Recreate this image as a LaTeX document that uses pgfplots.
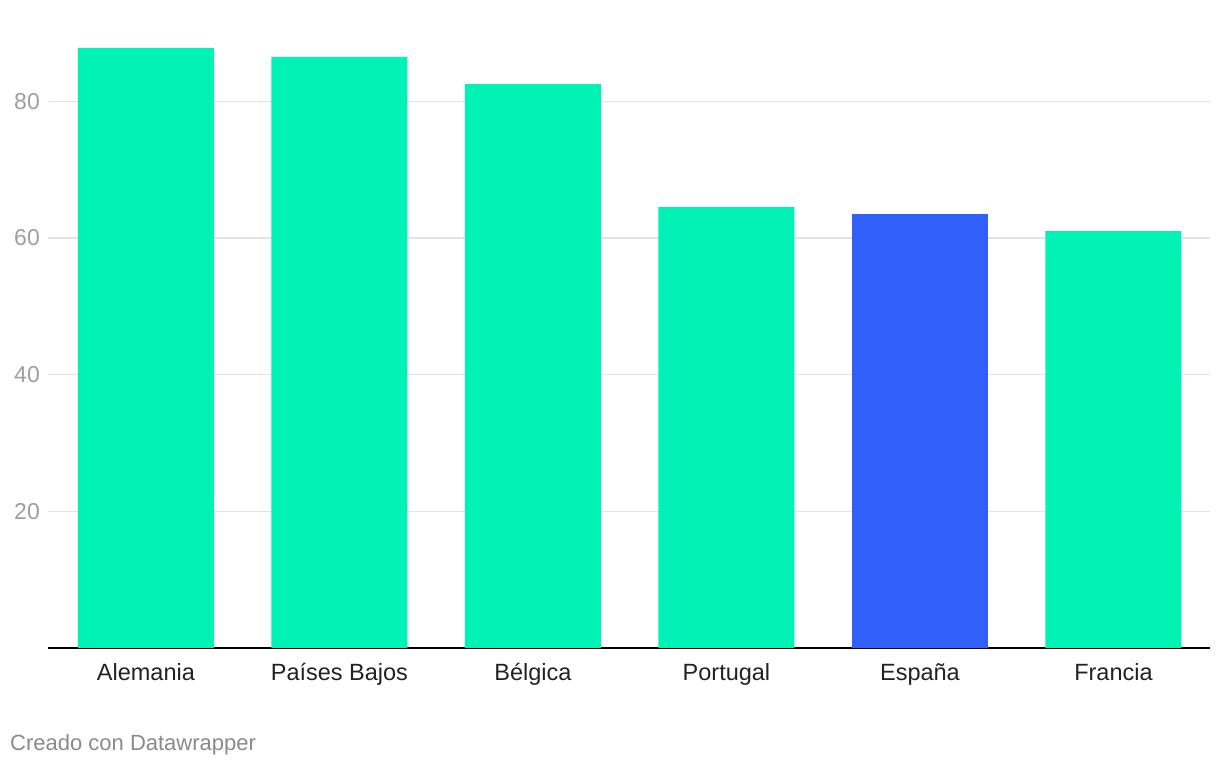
\documentclass[border=0pt]{standalone}
\usepackage{fontspec}
\setmainfont{Liberation Sans}
\usepackage{pgfplots}
\pgfplotsset{compat=1.18}
\definecolor{grn}{HTML}{00F3B4}
\definecolor{blu}{HTML}{305FF9}
\definecolor{gridc}{HTML}{E3E3E3}
\definecolor{tickc}{HTML}{9E9E9E}
\definecolor{footc}{HTML}{8A8A8A}
\definecolor{labc}{HTML}{222222}
\begin{document}
\begin{tikzpicture}[x=1pt,y=1pt]
\path[use as bounding box] (0,0) rectangle (1220,768);
\begin{axis}[
  at={(48pt,120pt)}, anchor=south west,
  scale only axis, width=1162pt, height=615.15pt,
  xmin=-0.506, xmax=5.499, ymin=0, ymax=90,
  axis x line*=bottom, axis y line*=left,
  x axis line style={draw=black, line width=1.6pt, -},
  y axis line style={draw=none},
  ytick={20,40,60,80},
  ymajorgrids, grid style={gridc, line width=1.3pt},
  major tick length=0pt,
  xtick={0,1,2,3,4,5},
  xticklabels={Alemania,Países Bajos,Bélgica,Portugal,España,Francia},
  xticklabel style={font=\fontsize{23.5}{25}\selectfont, text=labc, anchor=base, inner sep=0pt, yshift=-33pt},
  yticklabel style={font=\fontsize{23}{25}\selectfont, text=tickc, anchor=east, inner sep=0pt, xshift=-8pt},
  /pgf/number format/assume math mode=true,
  ybar, bar width=136pt, bar shift=0pt,
  clip=false,
]
\addplot[fill=grn, draw=none] coordinates {(0,87.8) (1,86.5) (2,82.5) (3,64.5) (5,61.0)};
\addplot[fill=blu, draw=none] coordinates {(4,63.5)};
\end{axis}
\node[anchor=west, text=footc, inner sep=0pt, font=\fontsize{22}{24}\selectfont] at (10,23) {Creado con Datawrapper};
\end{tikzpicture}
\end{document}
